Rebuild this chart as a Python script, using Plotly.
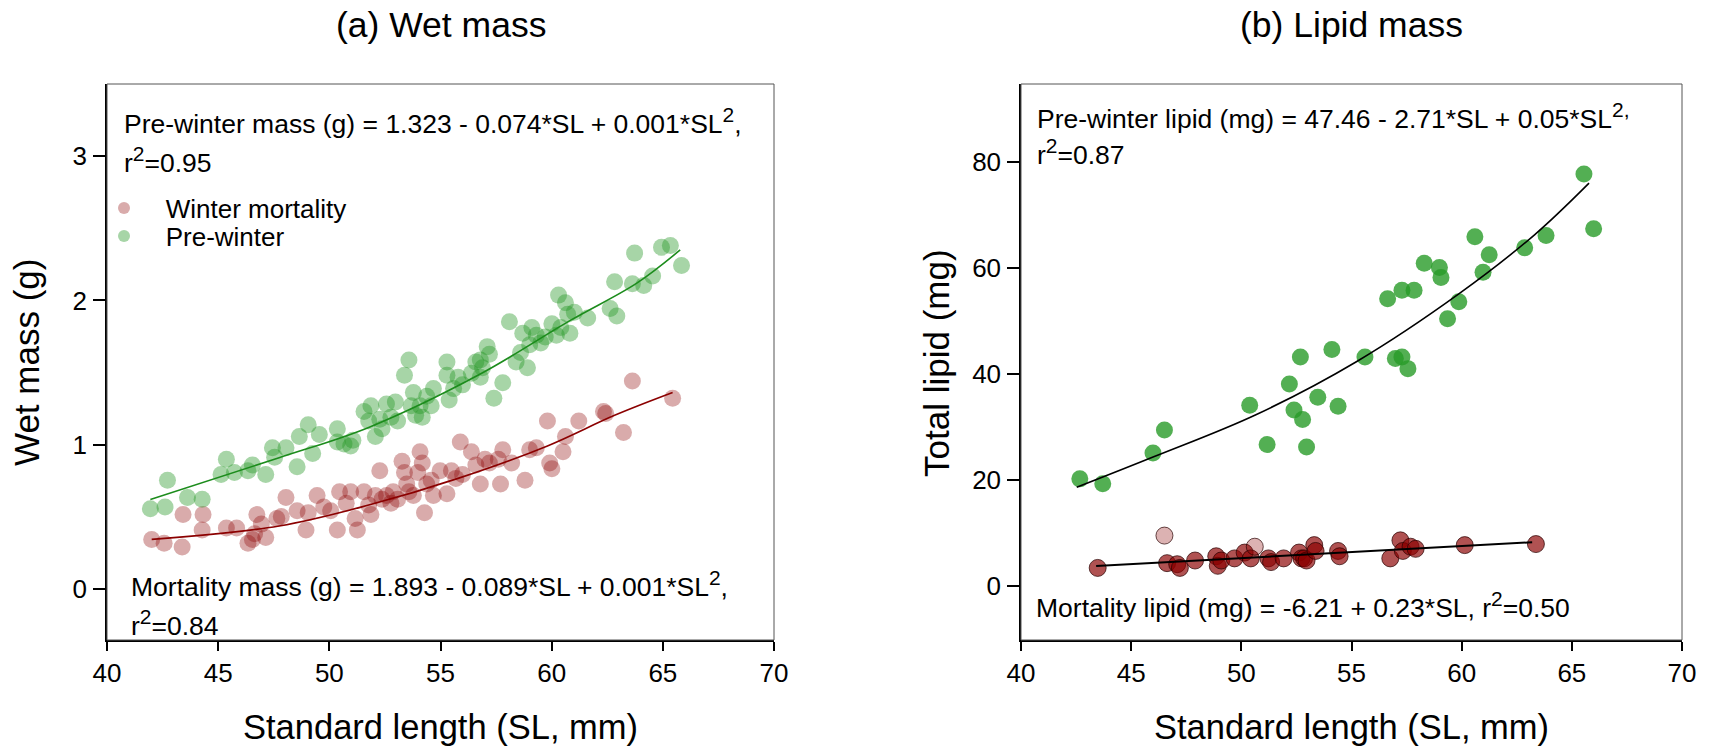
import plotly.graph_objects as go

# ---------------- data ----------------
x_ticks = [40, 45, 50, 55, 60, 65, 70]
wet_y_ticks = [0, 1, 2, 3]
lip_y_ticks = [0, 20, 40, 60, 80]

# (a) Wet mass - pre-winter
wet_pre_sl = [41.95, 42.61, 42.72, 43.62, 44.28, 45.13, 45.37, 45.73, 46.34, 46.54, 47.14, 47.44, 47.54,
              48.05, 48.55, 48.65, 49.05, 49.25, 49.55, 50.36, 50.36, 50.66, 50.96, 51.06, 51.56, 51.77,
              51.87, 52.07, 52.27, 52.37, 52.57, 52.77, 52.97, 53.07, 53.38, 53.58, 53.78, 53.68, 53.88,
              54.08, 54.18, 54.38, 54.58, 54.68, 55.29, 55.29, 55.39, 55.59, 55.79, 55.99, 56.39, 56.59,
              56.79, 56.79, 56.89, 57.10, 57.20, 57.40, 57.80, 58.10, 58.40, 58.60, 58.70, 58.91, 59.01,
              59.11, 59.31, 59.51, 59.71, 60.01, 60.21, 60.31, 60.41, 60.62, 60.72, 60.82, 61.02, 61.62,
              62.63, 62.93, 62.83, 63.63, 63.73, 64.14, 64.54, 64.94, 65.34, 65.84]
wet_pre_mass = [0.556, 0.569, 0.754, 0.635, 0.622, 0.794, 0.899, 0.807, 0.820, 0.860, 0.794, 0.979, 0.913,
                0.979, 0.847, 1.058, 1.138, 0.939, 1.071, 1.111, 1.019, 1.005, 0.992, 1.032, 1.230, 1.164,
                1.270, 1.058, 1.177, 1.111, 1.283, 1.190, 1.296, 1.164, 1.481, 1.587, 1.362, 1.270, 1.204,
                1.270, 1.190, 1.336, 1.270, 1.389, 1.574, 1.481, 1.310, 1.389, 1.468, 1.415, 1.495, 1.574,
                1.587, 1.468, 1.534, 1.680, 1.627, 1.323, 1.429, 1.852, 1.574, 1.640, 1.772, 1.534, 1.693,
                1.812, 1.759, 1.706, 1.746, 1.839, 1.759, 2.037, 1.812, 1.984, 1.905, 1.772, 1.918, 1.878,
                1.944, 1.892, 2.130, 2.116, 2.328, 2.103, 2.169, 2.368, 2.381, 2.243]

# (a) Wet mass - winter mortality
wet_mort_sl = [42.01, 42.57, 43.38, 43.42, 44.28, 44.32, 45.37, 45.83, 46.34, 46.54, 46.64, 46.74, 46.94,
               47.14, 47.64, 47.84, 48.05, 48.55, 48.95, 49.05, 49.45, 49.75, 50.06, 50.36, 50.46, 50.76,
               50.96, 51.16, 51.26, 51.56, 51.77, 51.87, 52.07, 52.27, 52.37, 52.57, 52.77, 52.87, 53.07,
               53.27, 53.38, 53.48, 53.58, 53.78, 53.98, 54.08, 54.18, 54.28, 54.38, 54.58, 54.68, 54.98,
               55.29, 55.49, 55.69, 55.89, 55.99, 56.39, 56.59, 56.79, 57.00, 57.20, 57.60, 57.70, 57.80,
               58.20, 58.80, 59.01, 59.31, 59.81, 59.91, 60.01, 60.51, 60.62, 61.22, 62.33, 62.43, 63.23,
               63.63, 65.44]
wet_mort_mass = [0.344, 0.317, 0.291, 0.516, 0.410, 0.516, 0.423, 0.423, 0.317, 0.344, 0.384, 0.516, 0.450,
                 0.357, 0.489, 0.503, 0.635, 0.542, 0.410, 0.529, 0.648, 0.569, 0.542, 0.410, 0.675, 0.595,
                 0.675, 0.489, 0.410, 0.675, 0.582, 0.516, 0.648, 0.820, 0.622, 0.648, 0.595, 0.675, 0.622,
                 0.886, 0.807, 0.728, 0.675, 0.648, 0.807, 0.952, 0.873, 0.529, 0.728, 0.754, 0.648, 0.820,
                 0.661, 0.820, 0.767, 1.019, 0.794, 0.952, 0.860, 0.728, 0.899, 0.873, 0.899, 0.728, 0.966,
                 0.873, 0.754, 0.966, 0.979, 1.164, 0.873, 0.833, 0.952, 1.058, 1.164, 1.230, 1.217, 1.085,
                 1.442, 1.323]

# fitted curves (a)
wet_pre_fit_sl = [41.95, 47.74, 51.77, 56.79, 60.82, 63.83, 65.78]
wet_pre_fit = [0.62, 0.91, 1.12, 1.49, 1.86, 2.12, 2.35]
wet_mort_fit_sl = [42.01, 47.74, 51.77, 55.79, 59.81, 62.83, 65.44]
wet_mort_fit = [0.344, 0.437, 0.582, 0.767, 0.992, 1.204, 1.362]

# (b) Lipid mass - pre-winter
lip_pre_sl = [42.67, 43.71, 45.99, 46.51, 50.38, 51.17, 52.18, 52.39, 52.68, 52.78, 52.96, 53.47, 54.11,
              54.39, 55.61, 56.64, 56.99, 57.29, 57.29, 57.56, 57.84, 58.30, 58.99, 59.06, 59.36, 59.87,
              60.60, 60.97, 61.25, 62.86, 63.83, 65.55, 65.99]
lip_pre_mg = [20.2, 19.3, 25.1, 29.4, 34.1, 26.7, 38.1, 33.2, 43.2, 31.4, 26.2, 35.6, 44.6,
              33.9, 43.2, 54.2, 42.9, 55.8, 43.2, 41.0, 55.8, 60.9, 60.1, 58.2, 50.4, 53.6,
              65.9, 59.2, 62.5, 63.8, 66.1, 77.7, 67.4]

# (b) Lipid mass - winter mortality
lip_mort_sl = [43.48, 46.51, 46.63, 47.09, 47.21, 47.90, 48.86, 48.93, 49.09, 49.69, 50.15, 50.43, 50.61,
               51.23, 51.35, 51.92, 52.62, 52.73, 52.85, 52.96, 53.31, 53.37, 54.39, 54.46, 56.76, 57.22,
               57.33, 57.68, 57.91, 60.14, 63.37]
lip_mort_mg = [3.4, 9.5, 4.3, 4.1, 3.4, 4.8, 5.6, 3.8, 4.8, 5.2, 6.3, 5.2, 7.4,
               5.2, 4.5, 5.2, 6.3, 5.2, 5.2, 4.8, 7.7, 6.6, 6.6, 5.6, 5.2, 8.6,
               6.6, 7.4, 7.0, 7.7, 7.9]

# fitted curves (b)
lip_pre_fit_sl = [42.53, 46.05, 50.66, 55.26, 59.87, 63.32, 65.78]
lip_pre_fit = [18.6, 24.4, 32.3, 42.4, 55.1, 66.3, 76.0]
lip_mort_fit_sl = [43.41, 63.2]
lip_mort_fit = [3.76, 8.24]

# ---------------- styling ----------------
FONT = "Arial, Liberation Sans, sans-serif"
W, H = 1713, 751
L_X0, L_X1 = 107, 774
R_X0, R_X1 = 1021, 1682
Y_TOP, Y_BOT = 84, 640
NB = "\u00a0" * 3
SUP2 = "<sup><span style='font-size:21px'>2</span></sup>"

mort_fill_b = ["rgba(139,0,0,0.30)" if i in (1, 12) else "rgba(139,0,0,0.68)" for i in range(len(lip_mort_sl))]

fig = go.Figure()

# panel a
fig.add_trace(go.Scatter(x=wet_mort_sl, y=wet_mort_mass, mode="markers", name=NB + "Winter mortality",
                         marker=dict(size=17, color="rgba(139,0,0,0.33)", line=dict(width=0)),
                         xaxis="x", yaxis="y", showlegend=True, legend="legend"))
fig.add_trace(go.Scatter(x=wet_pre_sl, y=wet_pre_mass, mode="markers", name=NB + "Pre-winter",
                         marker=dict(size=17, color="rgba(34,150,34,0.40)", line=dict(width=0)),
                         xaxis="x", yaxis="y", showlegend=True, legend="legend2"))
fig.add_trace(go.Scatter(x=wet_pre_fit_sl, y=wet_pre_fit, mode="lines", line=dict(color="#1c8c1c", width=1.6, shape="spline"),
                         xaxis="x", yaxis="y", showlegend=False))
fig.add_trace(go.Scatter(x=wet_mort_fit_sl, y=wet_mort_fit, mode="lines", line=dict(color="#8b0000", width=1.6, shape="spline"),
                         xaxis="x", yaxis="y", showlegend=False))

# panel b
fig.add_trace(go.Scatter(x=lip_pre_sl, y=lip_pre_mg, mode="markers",
                         marker=dict(size=17, color="rgba(40,155,40,0.80)", line=dict(width=0)),
                         xaxis="x2", yaxis="y2", showlegend=False))
fig.add_trace(go.Scatter(x=lip_mort_sl, y=lip_mort_mg, mode="markers",
                         marker=dict(size=17, color=mort_fill_b, line=dict(width=1, color="rgba(40,0,0,0.7)")),
                         xaxis="x2", yaxis="y2", showlegend=False))
fig.add_trace(go.Scatter(x=lip_pre_fit_sl, y=lip_pre_fit, mode="lines", line=dict(color="black", width=1.6, shape="spline"),
                         xaxis="x2", yaxis="y2", showlegend=False))
fig.add_trace(go.Scatter(x=lip_mort_fit_sl, y=lip_mort_fit, mode="lines", line=dict(color="black", width=2),
                         xaxis="x2", yaxis="y2", showlegend=False))

xcommon = dict(range=[40, 70], tickvals=x_ticks, ticks="outside", ticklen=9, tickwidth=1.5, tickcolor="black",
               showline=True, linewidth=2, linecolor="black", showgrid=False, zeroline=False, automargin=False,
               tickfont=dict(family=FONT, size=26, color="black"), ticklabelstandoff=0)
ycommon = dict(ticks="outside", ticklen=12, tickwidth=1.5, tickcolor="black",
               showline=True, linewidth=1.5, linecolor="black", showgrid=False, zeroline=False, automargin=False,
               tickfont=dict(family=FONT, size=26, color="black"), ticklabelstandoff=1)

legfont = dict(family=FONT, size=26, color="black")
ydom = [1 - Y_BOT / H, 1 - Y_TOP / H]
fig.update_layout(
    width=W, height=H, margin=dict(l=0, r=0, t=0, b=0, autoexpand=False), autosize=False,
    paper_bgcolor="white", plot_bgcolor="white",
    xaxis=dict(domain=[L_X0 / W, L_X1 / W], anchor="y", **xcommon),
    xaxis2=dict(domain=[R_X0 / W, R_X1 / W], anchor="y2", **xcommon),
    yaxis=dict(domain=ydom, anchor="x", range=[-0.353, 3.5], tickvals=wet_y_ticks, **ycommon),
    yaxis2=dict(domain=ydom, anchor="x2", range=[-10.2, 94.7], tickvals=lip_y_ticks, **ycommon),
    legend=dict(x=104 / W, y=1 - 208 / H, xanchor="left", yanchor="middle", bgcolor="rgba(0,0,0,0)",
                font=legfont, itemsizing="constant"),
    legend2=dict(x=104 / W, y=1 - 236 / H, xanchor="left", yanchor="middle", bgcolor="rgba(0,0,0,0)",
                 font=legfont, itemsizing="constant"),
    font=dict(family=FONT, color="black"),
)

# box borders
for xr, yr in (("x domain", "y domain"), ("x2 domain", "y2 domain")):
    fig.add_shape(type="rect", xref=xr, yref=yr, x0=0, x1=1, y0=0, y1=1,
                  line=dict(color="#555555", width=1), layer="above")


def ann(text, x, y, xref, yref, size=26.5, **kw):
    fig.add_annotation(text=text, x=x, y=y, xref=xref, yref=yref, showarrow=False,
                       font=dict(family=FONT, size=size, color="black"), **kw)

# panel titles
ann("(a) Wet mass", 0.5, 1 - 25 / H, "x domain", "paper", size=35.5, xanchor="center", yanchor="middle")
ann("(b) Lipid mass", 0.5, 1 - 25 / H, "x2 domain", "paper", size=35.5, xanchor="center", yanchor="middle")
# axis titles
ann("Standard length (SL, mm)", 0.5, 1 - 727 / H, "x domain", "paper", size=34.5, xanchor="center", yanchor="middle")
ann("Standard length (SL, mm)", 0.5, 1 - 727 / H, "x2 domain", "paper", size=34.5, xanchor="center", yanchor="middle")
ann("Wet mass (g)", 27 / W, 1 - 363 / H, "paper", "paper", size=35, textangle=-90, xanchor="center", yanchor="middle")
ann("Total lipid (mg)", 937 / W, 1 - 363 / H, "paper", "paper", size=35, textangle=-90, xanchor="center", yanchor="middle")

# equations
ann("Pre-winter mass (g) = 1.323 - 0.074*SL + 0.001*SL" + SUP2 + ",", 0.022, 0.933, "x domain", "y domain", xanchor="left", yanchor="middle")
ann("r" + SUP2 + "=0.95", 0.022, 0.863, "x domain", "y domain", xanchor="left", yanchor="middle")
ann("Mortality mass (g) = 1.893 - 0.089*SL + 0.001*SL" + SUP2 + ",", 0.0325, 0.1007, "x domain", "y domain", xanchor="left", yanchor="middle")
ann("r" + SUP2 + "=0.84", 0.0325, 0.0306, "x domain", "y domain", xanchor="left", yanchor="middle")
ann("Pre-winter lipid (mg) = 47.46 - 2.71*SL + 0.05*SL<sup><span style='font-size:21px'>2,</span></sup>", 0.021, 0.942, "x2 domain", "y2 domain", xanchor="left", yanchor="middle")
ann("r" + SUP2 + "=0.87", 0.021, 0.877, "x2 domain", "y2 domain", xanchor="left", yanchor="middle")
ann("Mortality lipid (mg) = -6.21 + 0.23*SL, r" + SUP2 + "=0.50", 0.0197, 0.063, "x2 domain", "y2 domain", xanchor="left", yanchor="middle")

fig.write_html("out.html", config={"displayModeBar": False},
               post_script="document.body.style.margin='0';document.body.style.overflow='hidden';")
